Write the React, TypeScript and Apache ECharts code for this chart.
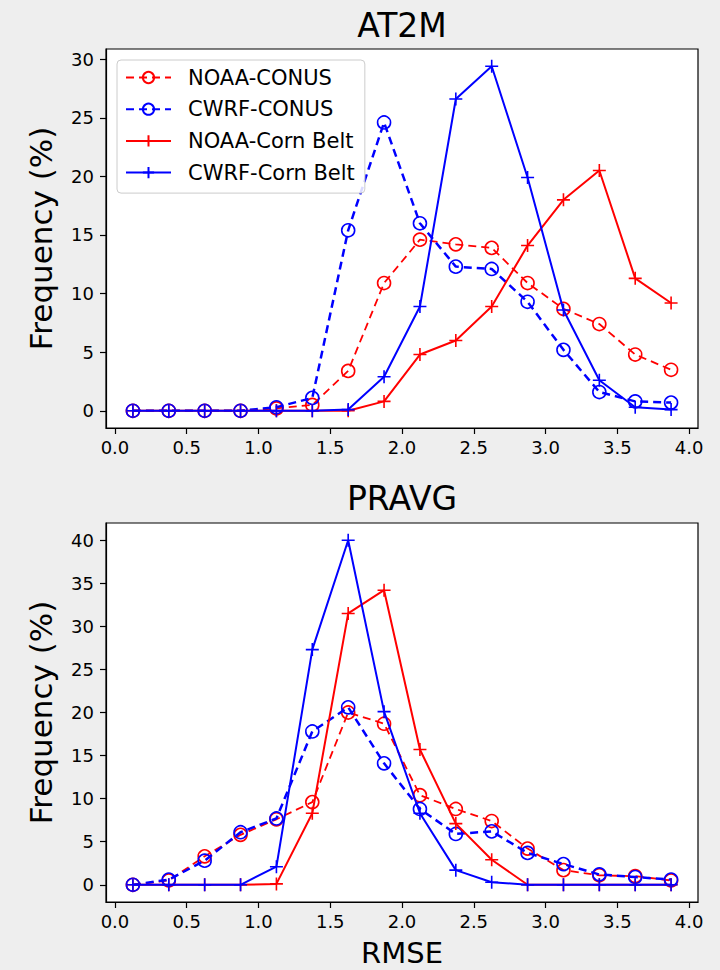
import React, { useEffect, useRef } from "react";
import * as echarts from "echarts";

const X_VALUES = [0.125, 0.375, 0.625, 0.875, 1.125, 1.375, 1.625, 1.875, 2.125, 2.375, 2.625, 2.875, 3.125, 3.375, 3.625, 3.875];
const X_TICKS = [0, 0.5, 1, 1.5, 2, 2.5, 3, 3.5, 4];
const Y_TICKS_TOP = [0, 5, 10, 15, 20, 25, 30];
const Y_TICKS_BOTTOM = [0, 5, 10, 15, 20, 25, 30, 35, 40];

const SERIES_NAMES = ["NOAA-CONUS", "CWRF-CONUS", "NOAA-Corn Belt", "CWRF-Corn Belt"];

// AT2M panel
const AT2M_NOAA_CONUS = [0, 0, 0, 0, 0.2, 0.5, 3.4, 10.9, 14.6, 14.2, 13.9, 10.9, 8.7, 7.4, 4.8, 3.5];
const AT2M_CWRF_CONUS = [0, 0, 0, 0, 0.3, 1.1, 15.4, 24.6, 16.0, 12.3, 12.1, 9.3, 5.2, 1.6, 0.8, 0.7];
const AT2M_NOAA_CORN = [0, 0, 0, 0, 0, 0, 0, 0.8, 4.8, 6.0, 8.9, 14.1, 18.0, 20.5, 11.3, 9.2];
const AT2M_CWRF_CORN = [0, 0, 0, 0, 0, 0, 0.1, 2.9, 8.9, 26.6, 29.4, 19.9, 8.6, 2.6, 0.3, 0.1];

// PRAVG panel
const PRAVG_NOAA_CONUS = [0, 0.5, 3.3, 5.8, 7.6, 9.6, 20.0, 18.7, 10.4, 8.8, 7.4, 4.2, 1.7, 1.1, 1.0, 0.5];
const PRAVG_CWRF_CONUS = [0, 0.6, 2.8, 6.1, 7.7, 17.8, 20.6, 14.1, 8.8, 5.9, 6.2, 3.7, 2.4, 1.2, 0.9, 0.6];
const PRAVG_NOAA_CORN = [0, 0, 0, 0, 0.1, 8.3, 31.5, 34.2, 15.7, 7.1, 2.9, 0, 0, 0, 0, 0];
const PRAVG_CWRF_CORN = [0, 0, 0, 0, 2.1, 27.3, 40.0, 20.1, 8.3, 1.7, 0.3, 0, 0, 0, 0, 0];

const RED = "#ff0000";
const BLUE = "#0000ff";
const FONT = "DejaVu Sans";
const PLUS = "path://M0,-1L0,1M-1,0L1,0";

function pairs(ys: number[]) {
  return X_VALUES.map((x, i) => [x, ys[i]]);
}

function makeSeries(idx: number, panel: number[][]) {
  const styles = [
    { color: RED, dashed: true, width: 1.8 },
    { color: BLUE, dashed: true, width: 2.5 },
    { color: RED, dashed: false, width: 2 },
    { color: BLUE, dashed: false, width: 2 },
  ];
  return panel.map((ys, k) => {
    const s = styles[k];
    const circle = s.dashed;
    return {
      type: "line",
      name: SERIES_NAMES[k],
      xAxisIndex: idx,
      yAxisIndex: idx,
      data: pairs(ys),
      symbol: circle ? "circle" : PLUS,
      symbolSize: circle ? 13 : 13,
      showSymbol: true,
      lineStyle: { color: s.color, width: s.width, type: s.dashed ? [8, 5] : "solid" },
      itemStyle: {
        color: circle ? "rgba(0,0,0,0)" : s.color,
        borderColor: s.color,
        borderWidth: 1.6,
      },
      emphasis: { disabled: true },
      z: 2 + k,
    };
  });
}

function xAxis(idx: number, withName: boolean) {
  return {
    type: "value",
    gridIndex: idx,
    min: -0.0625,
    max: 4.0625,
    name: withName ? "RMSE" : "",
    nameLocation: "middle",
    nameGap: 36,
    nameTextStyle: { fontFamily: FONT, fontSize: 29, color: "#000" },
    axisLine: { show: true, onZero: false, lineStyle: { color: "#000", width: 1.2 } },
    axisTick: { show: true, length: 6, customValues: X_TICKS, lineStyle: { color: "#000", width: 1.2 } },
    axisLabel: {
      customValues: X_TICKS,
      formatter: (v: number) => v.toFixed(1),
      fontFamily: FONT,
      fontSize: 18,
      color: "#000",
      margin: 10,
    },
    splitLine: { show: false },
  };
}

function yAxis(idx: number, max: number, min: number, ticks: number[]) {
  return {
    type: "value",
    gridIndex: idx,
    min,
    max,
    name: "Frequency (%)",
    nameLocation: "middle",
    nameRotate: 90,
    nameGap: 50,
    nameTextStyle: { fontFamily: FONT, fontSize: 31, color: "#000" },
    axisLine: { show: true, onZero: false, lineStyle: { color: "#000", width: 1.2 } },
    axisTick: { show: true, length: 6, customValues: ticks, lineStyle: { color: "#000", width: 1.2 } },
    axisLabel: {
      customValues: ticks,
      formatter: (v: number) => String(v),
      fontFamily: FONT,
      fontSize: 18,
      color: "#000",
      margin: 12,
    },
    splitLine: { show: false },
  };
}

export default function App() {
  const ref = useRef<HTMLDivElement>(null);
  useEffect(() => {
    if (!ref.current) return;
    const chart = echarts.init(ref.current, undefined, { renderer: "svg" });
    const option = {
      animation: false,
      backgroundColor: "#eeeeee",
      textStyle: { fontFamily: FONT },
      graphic: [
        {
          type: "text",
          x: 402,
          y: 25,
          style: { text: "AT2M", fontFamily: FONT, fontSize: 33, fill: "#000", align: "center", verticalAlign: "middle" },
        },
        {
          type: "text",
          x: 402,
          y: 498,
          style: { text: "PRAVG", fontFamily: FONT, fontSize: 33, fill: "#000", align: "center", verticalAlign: "middle" },
        },
      ],
      legend: {
        show: true,
        data: SERIES_NAMES,
        orient: "vertical",
        left: 117,
        top: 60,
        padding: [7, 10, 10, 8],
        itemWidth: 45,
        itemHeight: 14,
        itemGap: 10.7,
        backgroundColor: "rgba(255,255,255,0.85)",
        borderColor: "#cccccc",
        borderWidth: 1,
        borderRadius: 4,
        selectedMode: false,
        textStyle: { fontFamily: FONT, fontSize: 21, color: "#000", lineHeight: 21, padding: [0, 0, 0, 12] },
      },
      grid: [
        { left: 106, top: 49, width: 592, height: 379, show: true, borderColor: "#000", borderWidth: 1.2, backgroundColor: "#fff" },
        { left: 106, top: 523, width: 592, height: 379, show: true, borderColor: "#000", borderWidth: 1.2, backgroundColor: "#fff" },
      ],
      xAxis: [xAxis(0, false), xAxis(1, true)],
      yAxis: [yAxis(0, 30.87, -1.47, Y_TICKS_TOP), yAxis(1, 42, -2, Y_TICKS_BOTTOM)],
      series: [
        ...makeSeries(0, [AT2M_NOAA_CONUS, AT2M_CWRF_CONUS, AT2M_NOAA_CORN, AT2M_CWRF_CORN]),
        ...makeSeries(1, [PRAVG_NOAA_CONUS, PRAVG_CWRF_CONUS, PRAVG_NOAA_CORN, PRAVG_CWRF_CORN]),
      ],
    };
    chart.setOption(option as any);
    return () => chart.dispose();
  }, []);
  return <div ref={ref} style={{ position: "fixed", left: 0, top: 0, width: 720, height: 970 }} />;
}
